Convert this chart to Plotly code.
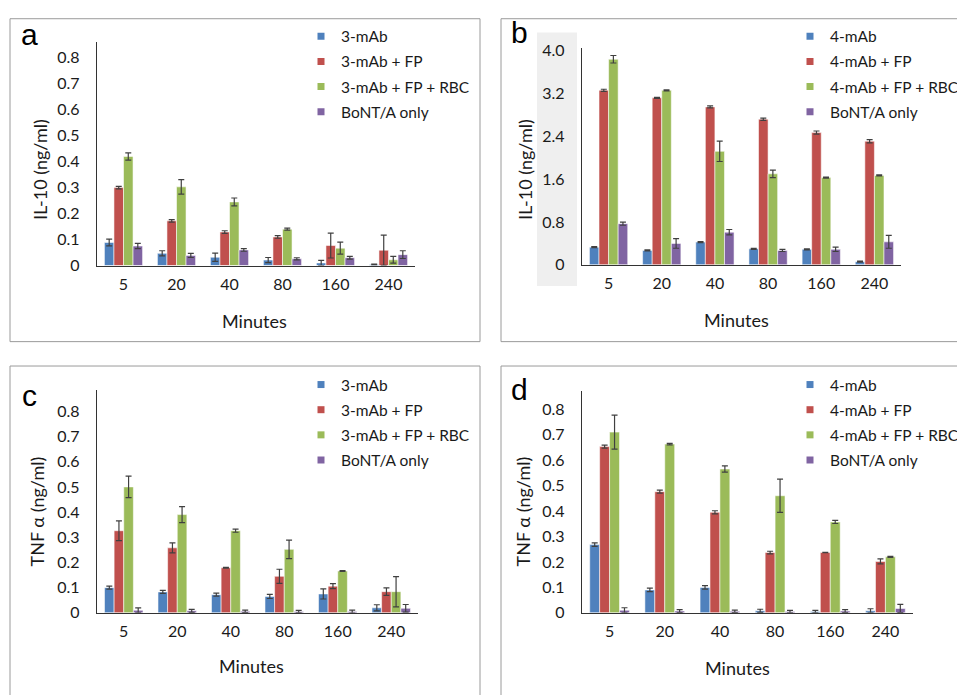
import plotly.graph_objects as go

W, H = 980, 695  # figure slightly wider than the 957px window so panel b/d frames run off the edge

# ---------------- data ----------------
minutes = ["5", "20", "40", "80", "160", "240"]
colors = ["#4F81BD", "#C0504D", "#9BBB59", "#8064A2"]

names_3 = ["3-mAb", "3-mAb + FP", "3-mAb + FP + RBC", "BoNT/A only"]
names_4 = ["4-mAb", "4-mAb + FP", "4-mAb + FP + RBC", "BoNT/A only"]

# Panel a: IL-10, 3-mAb
a_mab = [0.089, 0.047, 0.032, 0.021, 0.010, 0.004]
a_mab_fp = [0.300, 0.172, 0.129, 0.110, 0.077, 0.059]
a_mab_fp_rbc = [0.420, 0.303, 0.245, 0.140, 0.067, 0.022]
a_bont = [0.075, 0.039, 0.060, 0.026, 0.030, 0.042]
a_err_mab = [0.013, 0.010, 0.016, 0.010, 0.010, 0.002]
a_err_mab_fp = [0.005, 0.005, 0.005, 0.005, 0.048, 0.058]
a_err_mab_fp_rbc = [0.014, 0.028, 0.015, 0.004, 0.023, 0.013]
a_err_bont = [0.010, 0.008, 0.005, 0.004, 0.005, 0.015]

# Panel b: IL-10, 4-mAb
b_mab = [0.33, 0.27, 0.425, 0.30, 0.29, 0.06]
b_mab_fp = [3.26, 3.12, 2.95, 2.72, 2.47, 2.31]
b_mab_fp_rbc = [3.84, 3.26, 2.12, 1.70, 1.63, 1.67]
b_bont = [0.77, 0.40, 0.61, 0.27, 0.29, 0.43]
b_err_mab = [0.01, 0.01, 0.01, 0.01, 0.01, 0.01]
b_err_mab_fp = [0.02, 0.01, 0.02, 0.02, 0.03, 0.03]
b_err_mab_fp_rbc = [0.07, 0.01, 0.19, 0.07, 0.01, 0.01]
b_err_bont = [0.03, 0.09, 0.05, 0.02, 0.04, 0.12]

# Panel c: TNF alpha, 3-mAb
c_mab = [0.100, 0.083, 0.072, 0.065, 0.075, 0.020]
c_mab_fp = [0.326, 0.258, 0.179, 0.145, 0.106, 0.084]
c_mab_fp_rbc = [0.500, 0.390, 0.326, 0.252, 0.166, 0.084]
c_bont = [0.010, 0.008, 0.006, 0.005, 0.005, 0.018]
c_err_mab = [0.006, 0.006, 0.006, 0.008, 0.020, 0.012]
c_err_mab_fp = [0.039, 0.020, 0.002, 0.028, 0.010, 0.015]
c_err_mab_fp_rbc = [0.043, 0.032, 0.006, 0.037, 0.002, 0.060]
c_err_bont = [0.010, 0.006, 0.005, 0.005, 0.006, 0.015]

# Panel d: TNF alpha, 4-mAb
d_mab = [0.268, 0.090, 0.100, 0.008, 0.005, 0.008]
d_mab_fp = [0.653, 0.476, 0.395, 0.237, 0.237, 0.202]
d_mab_fp_rbc = [0.710, 0.663, 0.565, 0.460, 0.357, 0.220]
d_bont = [0.010, 0.007, 0.006, 0.005, 0.007, 0.017]
d_err_mab = [0.007, 0.007, 0.007, 0.006, 0.005, 0.008]
d_err_mab_fp = [0.006, 0.006, 0.006, 0.005, 0.001, 0.010]
d_err_mab_fp_rbc = [0.067, 0.003, 0.012, 0.065, 0.006, 0.002]
d_err_bont = [0.010, 0.006, 0.005, 0.005, 0.006, 0.016]

ticks_small = [0, 0.1, 0.2, 0.3, 0.4, 0.5, 0.6, 0.7, 0.8]
ticktext_small = ["0", "0.1", "0.2", "0.3", "0.4", "0.5", "0.6", "0.7", "0.8"]
ticks_big = [0, 0.8, 1.6, 2.4, 3.2, 4.0]
ticktext_big = ["0", "0.8", "1.6", "2.4", "3.2", "4.0"]

# ---------------- layout helpers ----------------
def px_x(v):
    return v / W

def px_y(v):
    return 1 - v / H

FONT = "Lato, 'Open Sans', Arial, sans-serif"
TXT = "#1a1a1a"

panels = [
    dict(key="a", names=names_3,
         vals=[a_mab, a_mab_fp, a_mab_fp_rbc, a_bont],
         errs=[a_err_mab, a_err_mab_fp, a_err_mab_fp_rbc, a_err_bont],
         xdom=(97, 415), ydom=(264, 35), yrange=[0, 0.86],
         tickvals=ticks_small, ticktext=ticktext_small,
         ytitle="IL-10 (ng/ml)", ytitle_pos=(40, 166), xtitle_pos=(254, 321),
         label_pos=(29, 27), legend_pos=(301, 12)),
    dict(key="b", names=names_4,
         vals=[b_mab, b_mab_fp, b_mab_fp_rbc, b_bont],
         errs=[b_err_mab, b_err_mab_fp, b_err_mab_fp_rbc, b_err_bont],
         xdom=(582, 901), ydom=(263.3, 41), yrange=[0, 4.05],
         tickvals=ticks_big, ticktext=ticktext_big,
         ytitle="IL-10 (ng/ml)", ytitle_pos=(525, 166), xtitle_pos=(736, 320),
         label_pos=(519, 25), legend_pos=(790, 12)),
    dict(key="c", names=names_3,
         vals=[c_mab, c_mab_fp, c_mab_fp_rbc, c_bont],
         errs=[c_err_mab, c_err_mab_fp, c_err_mab_fp_rbc, c_err_bont],
         xdom=(97, 418), ydom=(620, 392), yrange=[0, 0.883],
         tickvals=ticks_small, ticktext=ticktext_small,
         ytitle="TNF α (ng/ml)", ytitle_pos=(37, 516), xtitle_pos=(251, 675),
         label_pos=(29, 397), legend_pos=(301, 369)),
    dict(key="d", names=names_4,
         vals=[d_mab, d_mab_fp, d_mab_fp_rbc, d_bont],
         errs=[d_err_mab, d_err_mab_fp, d_err_mab_fp_rbc, d_err_bont],
         xdom=(582, 913), ydom=(620, 393), yrange=[0, 0.87],
         tickvals=ticks_small, ticktext=ticktext_small,
         ytitle="TNF α (ng/ml)", ytitle_pos=(523, 516), xtitle_pos=(737, 677),
         label_pos=(519, 391), legend_pos=(790, 369)),
]

fig = go.Figure()
layout = dict(
    width=W, height=H,
    margin=dict(l=0, r=0, t=0, b=0),
    paper_bgcolor="white", plot_bgcolor="rgba(0,0,0,0)",
    barmode="group", bargap=0.28, bargroupgap=0,
    font=dict(family=FONT, color=TXT),
    shapes=[], annotations=[],
)

# panel frames
frames = [(10, 11, 480, 342), (501, 11, 990, 342), (10, 367, 480, 705), (501, 367, 990, 705)]
for x0, y0, x1, y1 in frames:
    layout["shapes"].append(dict(type="rect", xref="paper", yref="paper",
                                 x0=px_x(x0), x1=px_x(x1), y0=px_y(y1), y1=px_y(y0),
                                 line=dict(color="#9a9a9a", width=1),
                                 fillcolor="white", layer="below"))
# grey band behind panel b tick labels
layout["shapes"].append(dict(type="rect", xref="paper", yref="paper",
                             x0=px_x(537), x1=px_x(577), y0=px_y(285), y1=px_y(25),
                             line=dict(width=0), fillcolor="#efefef", layer="below"))

for i, p in enumerate(panels):
    n = i + 1
    xa = "x" if n == 1 else f"x{n}"
    ya = "y" if n == 1 else f"y{n}"
    leg = "legend" if n == 1 else f"legend{n}"
    for s in range(4):
        fig.add_trace(go.Bar(
            x=minutes, y=p["vals"][s], name=p["names"][s],
            marker=dict(color=colors[s], line=dict(color="rgba(255,255,255,0.55)", width=1)),
            error_y=dict(type="data", array=p["errs"][s], color="#404040",
                         thickness=1.2, width=3),
            xaxis=xa, yaxis=ya, showlegend=False,
        ))
    for s in range(4):
        fig.add_trace(go.Scatter(
            x=[None], y=[None], mode="markers", name=p["names"][s],
            marker=dict(symbol="square", size=7, color=colors[s]),
            xaxis=xa, yaxis=ya, legend=leg, legendgroup=f"{p['key']}{s}",
            showlegend=True,
        ))

    xkey = "xaxis" if n == 1 else f"xaxis{n}"
    ykey = "yaxis" if n == 1 else f"yaxis{n}"
    layout[xkey] = dict(
        domain=[px_x(p["xdom"][0]), px_x(p["xdom"][1])], anchor=ya,
        type="category", showline=True, linecolor="#333333", linewidth=1.3,
        showgrid=False, zeroline=False, ticks="outside", ticklen=4,
        tickcolor="rgba(0,0,0,0)", tickfont=dict(size=16, color=TXT, family=FONT),
    )
    layout[ykey] = dict(
        domain=[px_y(p["ydom"][0]), px_y(p["ydom"][1])], anchor=xa,
        range=p["yrange"], showline=True, linecolor="#333333", linewidth=1.3,
        showgrid=False, zeroline=False, ticks="outside", ticklen=13,
        tickcolor="rgba(0,0,0,0)", tickvals=p["tickvals"], ticktext=p["ticktext"],
        tickfont=dict(size=16, color=TXT, family=FONT),
    )
    layout[leg] = dict(
        x=px_x(p["legend_pos"][0]), y=px_y(p["legend_pos"][1]),
        xanchor="left", yanchor="top", bgcolor="rgba(0,0,0,0)",
        font=dict(size=15.5, color=TXT, family=FONT),
        traceorder="grouped", tracegroupgap=2, itemsizing="trace",
    )
    layout["annotations"].append(dict(
        text=p["ytitle"], textangle=-90, xref="paper", yref="paper",
        x=px_x(p["ytitle_pos"][0]), y=px_y(p["ytitle_pos"][1]),
        xanchor="center", yanchor="middle", showarrow=False,
        font=dict(size=18, color=TXT, family=FONT)))
    layout["annotations"].append(dict(
        text="Minutes", xref="paper", yref="paper",
        x=px_x(p["xtitle_pos"][0]), y=px_y(p["xtitle_pos"][1]),
        xanchor="center", yanchor="middle", showarrow=False,
        font=dict(size=18, color=TXT, family=FONT)))
    layout["annotations"].append(dict(
        text=p["key"], xref="paper", yref="paper",
        x=px_x(p["label_pos"][0]), y=px_y(p["label_pos"][1]),
        xanchor="center", yanchor="middle", showarrow=False,
        font=dict(size=30, color="black", family="Liberation Sans, Arial, sans-serif")))

fig.update_layout(**layout)
fig.write_html(
    "out.html",
    config={"displayModeBar": False},
    post_script="document.body.style.margin='0px';document.body.style.overflow='hidden';",
)
